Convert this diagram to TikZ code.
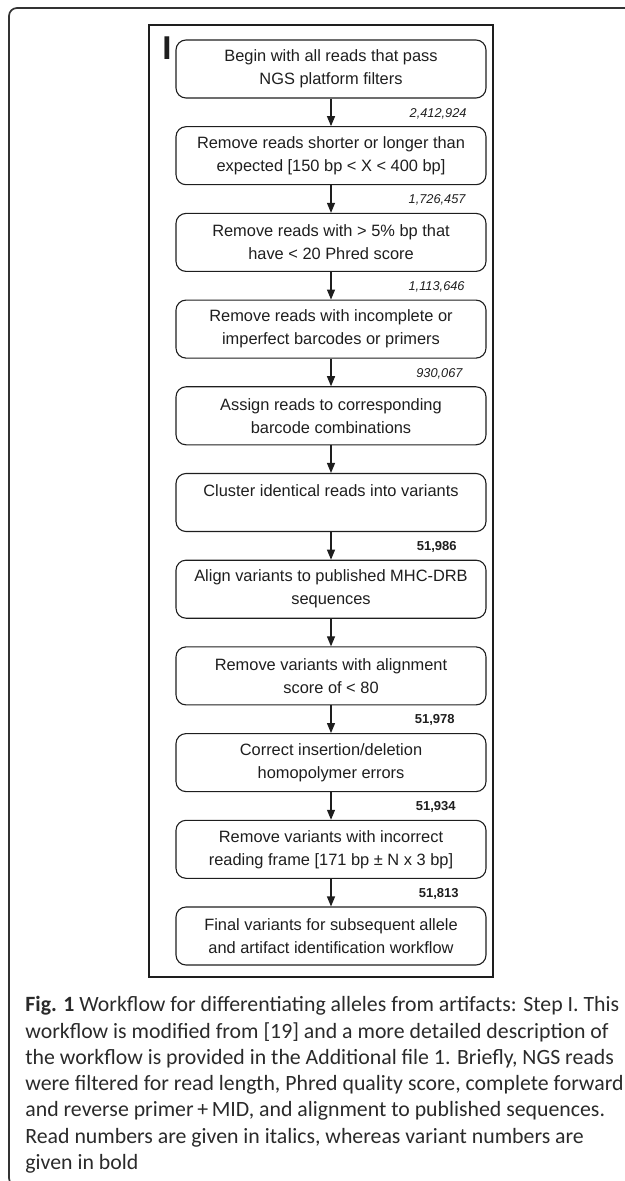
\documentclass[tikz,border=0pt]{standalone}
\usepackage{fontspec}
\setmainfont{Liberation Sans}
\newfontfamily\capfont{Carlito}
\usetikzlibrary{arrows.meta}
\definecolor{ink}{HTML}{1E1E1E}
\definecolor{capink}{HTML}{2A2A2A}
\definecolor{framegray}{HTML}{333333}
\begin{document}
\begin{tikzpicture}[x=0.5pt,y=-0.5pt,
  stepbox/.style={draw=ink, line width=0.55pt, rounded corners=5pt,
    minimum width=155pt, minimum height=29pt, inner sep=0pt,
    align=center, text=ink, font=\fontsize{8.2}{11.5}\selectfont},
  readcount/.style={anchor=east, inner sep=0pt, text=ink,
    font=\fontsize{6.4}{7}\selectfont\itshape},
  varcount/.style={anchor=east, inner sep=0pt, text=ink,
    font=\fontsize{6.5}{7}\selectfont\bfseries},
  flow/.style={draw=ink, line width=0.6pt, -{Triangle[length=5pt,width=4pt]}}]
\useasboundingbox (0,0) rectangle (625,1181);
% outer panel frame, running off the right and bottom edges
\begin{scope}
  \clip (0,0) rectangle (625,1181);
  \draw[framegray, line width=0.85pt, rounded corners=4pt] (9,8) rectangle (660,1186);
\end{scope}
% inner figure frame
\draw[ink, line width=0.65pt] (149,25) rectangle (493,977);
\node[anchor=north west, inner sep=0pt, text=ink,
  font=\fontsize{16.5}{18}\selectfont\bfseries] (stage) at (162,36) {I};

% workflow steps
\node[stepbox] (b1)  at (331,69)    {Begin with all reads that pass\\NGS platform filters};
\node[stepbox] (b2)  at (331,155.7) {Remove reads shorter or longer than\\expected [150 bp < X < 400 bp]};
\node[stepbox] (b3)  at (331,242.4) {Remove reads with > 5\% bp that\\have < 20 Phred score};
\node[stepbox] (b4)  at (331,329.1) {Remove reads with incomplete or\\imperfect barcodes or primers};
\node[stepbox] (b5)  at (331,415.8) {Assign reads to corresponding\\barcode combinations};
\node[stepbox] (b6)  at (331,502.5) {Cluster identical reads into variants\\\mbox{}};
\node[stepbox] (b7)  at (331,589.2) {Align variants to published MHC-DRB\\sequences};
\node[stepbox] (b8)  at (331,675.9) {Remove variants with alignment\\score of < 80};
\node[stepbox] (b9)  at (331,762.6) {Correct insertion/deletion\\homopolymer errors};
\node[stepbox] (b10) at (331,849.3) {Remove variants with incorrect\\reading frame [171 bp ± N x 3 bp]};
\node[stepbox] (b11) at (331,936)   {Final variants for subsequent allele\\and artifact identification workflow};

% connectors
\draw[flow] (b1) -- (b2);
\draw[flow] (b2) -- (b3);
\draw[flow] (b3) -- (b4);
\draw[flow] (b4) -- (b5);
\draw[flow] (b5) -- (b6);
\draw[flow] (b6) -- (b7);
\draw[flow] (b7) -- (b8);
\draw[flow] (b8) -- (b9);
\draw[flow] (b9) -- (b10);
\draw[flow] (b10) -- (b11);

% read counts (italic) and variant counts (bold)
\node[readcount] (n1) at (467,113.5) {2,412,924};
\node[readcount] (n2) at (466,200.2) {1,726,457};
\node[readcount] (n3) at (465,286.9) {1,113,646};
\node[readcount] (n4) at (463,373.6) {930,067};
\node[varcount]  (n6) at (457,547)   {51,986};
\node[varcount]  (n8) at (455,720.4) {51,978};
\node[varcount]  (n9) at (456,807.1) {51,934};
\node[varcount]  (n10) at (459,893.8) {51,813};

% caption
\node[anchor=north west, inner sep=0pt, align=left, text=capink,
  font=\capfont\fontsize{10.9}{13.15}\selectfont] (caption) at (25,996)
{\textbf{Fig. 1} Workflow for differentiating alleles from artifacts: Step I. This\\
workflow is modified from [19] and a more detailed description of\\
the workflow is provided in the Additional file 1. Briefly, NGS reads\\
were filtered for read length, Phred quality score, complete forward\\
and reverse primer\,+\,MID, and alignment to published sequences.\\
Read numbers are given in italics, whereas variant numbers are\\
given in bold};
\end{tikzpicture}
\end{document}
